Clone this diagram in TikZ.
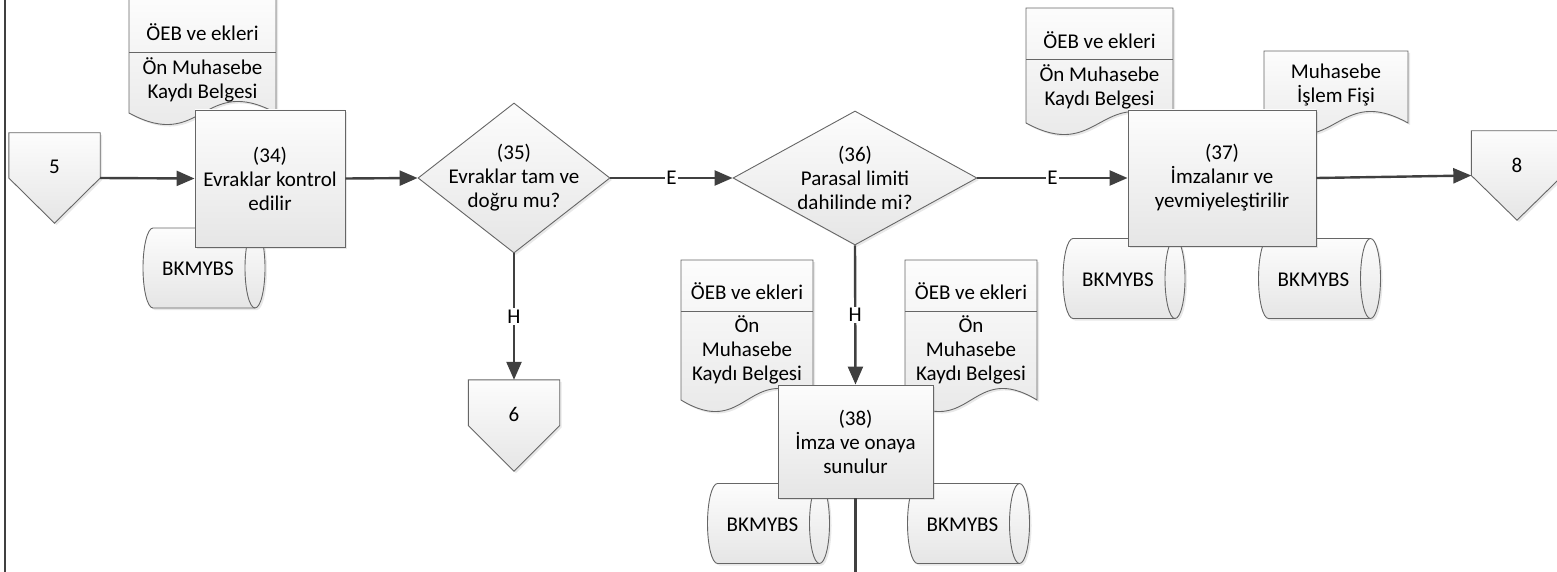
\documentclass[tikz,border=0pt]{standalone}
\usepackage{fontspec}
\setmainfont{Carlito}
\usepackage{tikz}
\usetikzlibrary{arrows.meta,shapes.geometric,shadows}

\definecolor{hatrenk}{HTML}{404040}
\definecolor{kenarrenk}{HTML}{666666}

\tikzset{
  yazi/.style={font=\fontsize{21}{24}\selectfont, align=center, inner sep=0pt},
  sekil/.style={draw=kenarrenk, line width=0.9pt, top color=black!1, bottom color=black!10,
    drop shadow={shadow xshift=2pt, shadow yshift=-2pt, opacity=0.18}},
  ince/.style={draw=kenarrenk, line width=0.9pt},
}

\newcommand{\belge}[4]{\path[sekil] (#1,#2) -- (#3,#2) -- (#3,#4) .. controls ({(#1+#3)/2},#4-40) and ({(#1+#3)/2},#4+40) .. (#1,#4) -- cycle;}
\newcommand{\veritabani}[3]{
  \path[sekil] (#2+51,#3-40) arc[start angle=90, end angle=-90, x radius=10pt, y radius=40pt] -- (#2-51,#3+40) arc[start angle=270, end angle=90, x radius=10pt, y radius=40pt] -- cycle;
  \draw[ince] (#2+51,#3-40) arc[start angle=90, end angle=270, x radius=10pt, y radius=40pt];
  \node[yazi] (#1) at (#2-6,#3+1) {BKMYBS};}

\begin{document}
\begin{tikzpicture}[x=1pt,y=-1pt,
    kutu/.style={sekil, yazi},
    karar/.style={sekil, diamond, inner sep=0pt},
    sayfa/.style={minimum width=91pt, inner sep=0pt},
    hat/.style={draw=hatrenk, line width=2.4pt},
    ok/.style={hat, -{Triangle[length=18pt,width=15pt]}},
    etiket/.style={yazi, fill=white, inner sep=1.5pt}]
  \useasboundingbox (0,0) rectangle (1557,572);
  \draw[hatrenk, line width=2.5pt] (5,0) -- (5,572);

  \belge{129}{-2}{276}{113}
  \draw[ince] (129,52) -- (276,52);
  \node[yazi] (b1a) at (202.5,32) {ÖEB ve ekleri};
  \node[yazi] (b1b) at (202.5,80) {Ön Muhasebe\\Kaydı Belgesi};

  \belge{1026}{8}{1173}{123}
  \draw[ince] (1026,59) -- (1173,59);
  \node[yazi] (b2a) at (1099.5,40) {ÖEB ve ekleri};
  \node[yazi] (b2b) at (1099.5,87) {Ön Muhasebe\\Kaydı Belgesi};

  \belge{1264}{51}{1408}{123}
  \node[yazi] (b3) at (1336,85) {Muhasebe\\İşlem Fişi};

  \belge{681}{260}{813}{400}
  \draw[ince] (681,311) -- (813,311);
  \node[yazi] (b4a) at (747,291) {ÖEB ve ekleri};
  \node[yazi] (b4b) at (747,350) {Ön\\Muhasebe\\Kaydı Belgesi};

  \belge{905}{260}{1037}{400}
  \draw[ince] (905,311) -- (1037,311);
  \node[yazi] (b5a) at (971,291) {ÖEB ve ekleri};
  \node[yazi] (b5b) at (971,350) {Ön\\Muhasebe\\Kaydı Belgesi};

  \veritabani{vt1}{204}{268}
  \veritabani{vt2}{1124}{278.5}
  \veritabani{vt3}{1319.5}{278.5}
  \veritabani{vt4}{768.5}{523.5}
  \veritabani{vt5}{968.5}{523.5}

  \node[kutu, minimum width=150pt, minimum height=137pt] (k34) at (270,178.5) {(34)\\Evraklar kontrol\\edilir};
  \node[karar, minimum width=192pt, minimum height=150pt, label={[yazi]center:{(35)\\Evraklar tam ve\\doğru mu?}}] (k35) at (514,178) {};
  \node[karar, minimum width=244pt, minimum height=134pt, label={[yazi]center:{(36)\\Parasal limiti\\dahilinde mi?}}] (k36) at (855,178) {};
  \node[kutu, minimum width=188pt, minimum height=136pt] (k37) at (1222,178) {(37)\\İmzalanır ve\\yevmiyeleştirilir};
  \node[kutu, minimum width=155pt, minimum height=113pt] (k38) at (855.5,441.5) {(38)\\İmza ve onaya\\sunulur};

  \node[sayfa, minimum height=90pt] (s5) at (54.5,178) {};
  \node[sayfa, minimum height=91pt] (s6) at (514,425.5) {};
  \node[sayfa, minimum height=89pt] (s8) at (1517,175.5) {};
  \foreach \s in {s5,s6,s8}
    \path[sekil] (\s.north west) -- (\s.north east) -- (\s.east) -- (\s.south) -- (\s.west) -- cycle;
  \node[yazi] (t5) at (54.5,167) {5};
  \node[yazi] (t6) at (514,414) {6};
  \node[yazi] (t8) at (1517,165) {8};

  \draw[ok] (s5.east) -- (k34.west);
  \draw[ok] (k34.east) -- (k35.west);
  \draw[ok] (k35.east) -- node[etiket] (e1) {E} (k36.west);
  \draw[ok] (k36.east) -- node[etiket] (e2) {E} (k37.west);
  \draw[ok] (k37.east) -- (s8.west);
  \draw[ok] (k35.south) -- node[etiket] (h1) {H} (s6.north);
  \draw[ok] (k36.south) -- node[etiket] (h2) {H} (k38.north);
  \coordinate (alt) at (855.5,580);
  \draw[hat] (k38.south) -- (alt);
\end{tikzpicture}
\end{document}
